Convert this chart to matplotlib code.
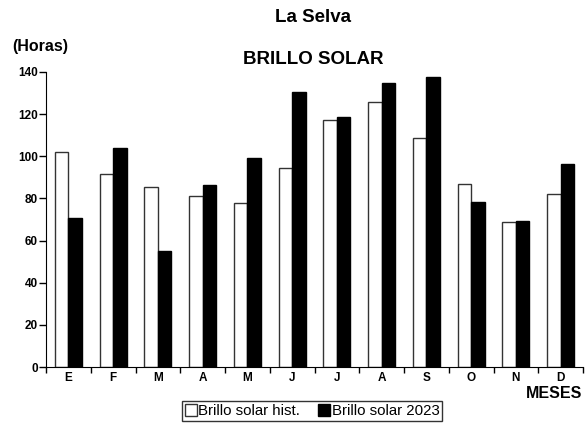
import numpy as np
import matplotlib
matplotlib.use("Agg")
import matplotlib.pyplot as plt

plt.rcParams['font.family'] = ['Liberation Sans', 'DejaVu Sans']

# datos
meses = ['E', 'F', 'M', 'A', 'M', 'J', 'J', 'A', 'S', 'O', 'N', 'D']
brillo_hist = [102, 91.5, 85.3, 81, 78, 94.4, 117, 125.6, 108.8, 86.8, 68.7, 82]
brillo_2023 = [70.6, 104, 55, 86.4, 99, 130.5, 118.8, 134.8, 137.8, 78.3, 69.1, 96.5]

x = np.arange(len(meses))
w = 0.3

fig = plt.figure(figsize=(5.88, 4.23), dpi=100)
ax = fig.add_axes([46/588, 1 - 367/423, (583 - 46)/588, (367 - 72)/423])

ax.bar(x - w/2, brillo_hist, w, color='white', edgecolor='#333333', linewidth=1,
       label='Brillo solar hist.')
ax.bar(x + w/2, brillo_2023, w, color='black', edgecolor='black', linewidth=1,
       label='Brillo solar 2023')

ax.set_xlim(-0.5, len(meses) - 0.5)
ax.set_ylim(0, 140)
ax.set_yticks(range(0, 141, 20))
ax.set_xticks(x)
ax.set_xticklabels(meses, fontsize=8.5, fontweight='bold')
ax.set_xticks(np.arange(-0.5, len(meses), 1), minor=True)
ax.tick_params(axis='x', which='major', length=0, pad=3.5)
ax.tick_params(axis='x', which='minor', length=4, width=1)
ax.tick_params(axis='y', length=5, width=1, pad=1)
for t in ax.get_yticklabels():
    t.set_fontsize(8.5)
    t.set_fontweight('bold')

ax.spines['top'].set_visible(False)
ax.spines['right'].set_visible(False)

fig.text(313/588, 1 - 17/423, 'La Selva', ha='center', va='center',
         fontsize=13.5, fontweight='bold')
fig.text(313/588, 1 - 60/423, 'BRILLO SOLAR', ha='center', va='center',
         fontsize=13.5, fontweight='bold')
fig.text(12/588, 1 - 47/423, '(Horas)', ha='left', va='center',
         fontsize=11.5, fontweight='bold')
fig.text(582/588, 1 - 393/423, 'MESES', ha='right', va='center',
         fontsize=11.5, fontweight='bold')

leg = fig.legend(loc='center', bbox_to_anchor=(312/588, 1 - 411/423), ncol=2,
                 fontsize=10.8, frameon=True, fancybox=False, edgecolor='black',
                 handlelength=0.8, handleheight=0.8, handletextpad=0.1,
                 columnspacing=1.2, borderpad=0.2, borderaxespad=0)
leg.get_frame().set_linewidth(1)

fig.savefig('out.png', dpi=100, facecolor='white')
